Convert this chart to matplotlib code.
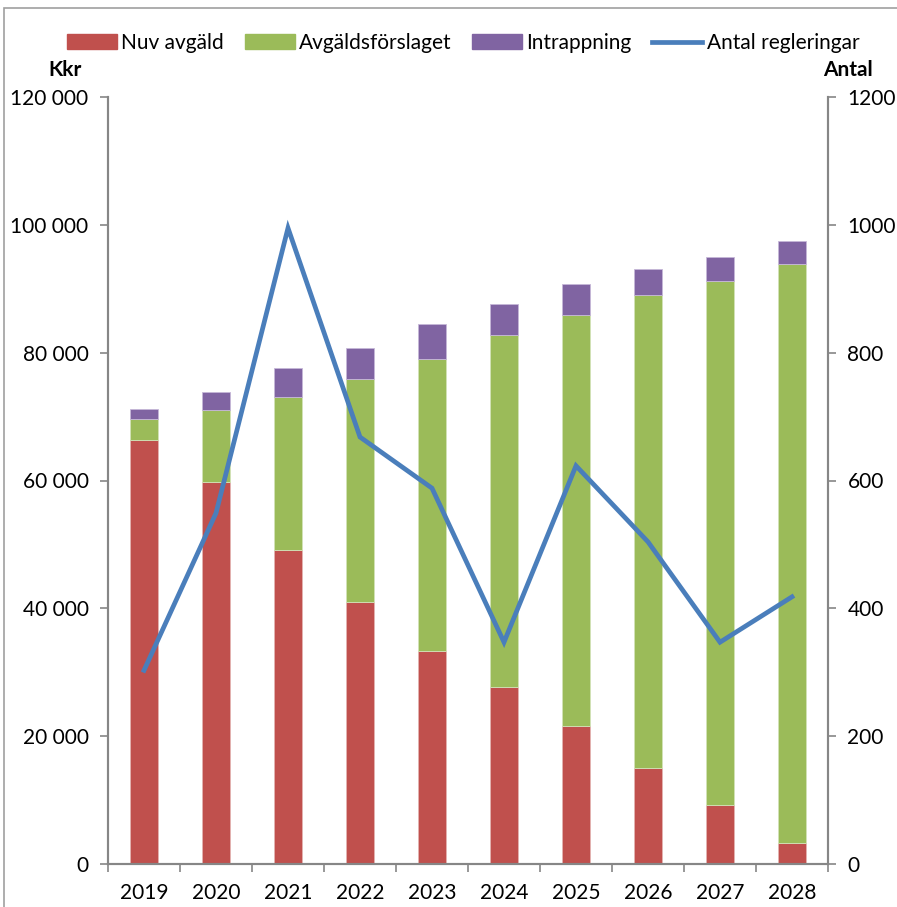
import matplotlib
matplotlib.use('Agg')
import matplotlib.pyplot as plt
import numpy as np
from matplotlib.patches import Rectangle
from matplotlib.lines import Line2D

plt.rcParams['font.family'] = ['Lato', 'DejaVu Sans']

years = ['2019', '2020', '2021', '2022', '2023', '2024', '2025', '2026', '2027', '2028']
nuv_avgald = [66300, 59800, 49100, 41000, 33300, 27700, 21600, 15000, 9200, 3300]
avgaldsforslaget = [3300, 11200, 24000, 34900, 45700, 55100, 64300, 74000, 82000, 90600]
intrappning = [1600, 2900, 4500, 4900, 5500, 4800, 4900, 4100, 3800, 3600]
antal_regleringar = [303, 549, 995, 668, 588, 347, 623, 504, 347, 418]

c_red = '#C0504D'
c_green = '#9BBB59'
c_purple = '#8064A2'
c_blue = '#4A7EBB'
c_axis = '#868686'

fig = plt.figure(figsize=(8.97, 9.07), dpi=100)
ax = fig.add_axes([108/897, 1-864/907, 720/897, 767/907])
ax2 = ax.twinx()

x = np.arange(len(years))
w = 0.4
ax.bar(x, nuv_avgald, w, color=c_red, edgecolor='#E3B3B2', linewidth=0.6, zorder=2)
ax.bar(x, avgaldsforslaget, w, bottom=nuv_avgald, color=c_green, edgecolor='#D2E3B8', linewidth=0.6, zorder=2)
bot2 = np.array(nuv_avgald) + np.array(avgaldsforslaget)
ax.bar(x, intrappning, w, bottom=bot2, color=c_purple, edgecolor='#C6B8D8', linewidth=0.6, zorder=2)

ax2.plot(x, antal_regleringar, color=c_blue, linewidth=3.4, solid_joinstyle='miter', zorder=3)

ax.set_xlim(-0.5, len(years) - 0.5)
ax.set_ylim(0, 120000)
ax2.set_ylim(0, 1200)

yt = np.arange(0, 120001, 20000)
ax.set_yticks(yt)
ax.set_yticklabels(['0' if v == 0 else f'{v // 1000} 000' for v in yt], fontsize=15)
ax2.set_yticks(np.arange(0, 1201, 200))
ax2.set_yticklabels([str(v) for v in range(0, 1201, 200)], fontsize=15)

ax.set_xticks(x)
ax.set_xticklabels(years, fontsize=15)
ax.set_xticks(np.arange(-0.5, len(years), 1), minor=True)
ax.tick_params(axis='x', which='major', length=0, pad=14)
ax.tick_params(axis='x', which='minor', length=6, color=c_axis, width=1.2)
ax.tick_params(axis='y', length=6, color=c_axis, width=1.2, pad=8)
ax2.tick_params(axis='y', length=6, color=c_axis, width=1.2, pad=8)

for a in (ax, ax2):
    a.spines['top'].set_visible(False)
    for s in ('left', 'right', 'bottom'):
        a.spines[s].set_color(c_axis)
        a.spines[s].set_linewidth(1.5)

fig.text(65/897, 1-70/907, 'Kkr', fontsize=15, fontweight='bold', ha='center', va='center')
fig.text(848/897, 1-70/907, 'Antal', fontsize=15, fontweight='bold', ha='center', va='center')

handles = [
    Rectangle((0, 0), 1, 1, color=c_red),
    Rectangle((0, 0), 1, 1, color=c_green),
    Rectangle((0, 0), 1, 1, color=c_purple),
    Line2D([0], [0], color=c_blue, linewidth=3.4),
]
labels = ['Nuv avgäld', 'Avgäldsförslaget', 'Intrappning', 'Antal regleringar']
fig.legend(handles, labels, loc='center', bbox_to_anchor=(463/897, 1-43/907), ncol=4,
           frameon=False, fontsize=15, handlelength=2.4, handleheight=0.7,
           handletextpad=0.2, columnspacing=1.0)

fig.patches.append(Rectangle((4/897, -0.1), 1.2, 1.1-8/907, transform=fig.transFigure,
                             fill=False, edgecolor='#A0A0A0', linewidth=1.2))

fig.savefig('out.png', dpi=100)
